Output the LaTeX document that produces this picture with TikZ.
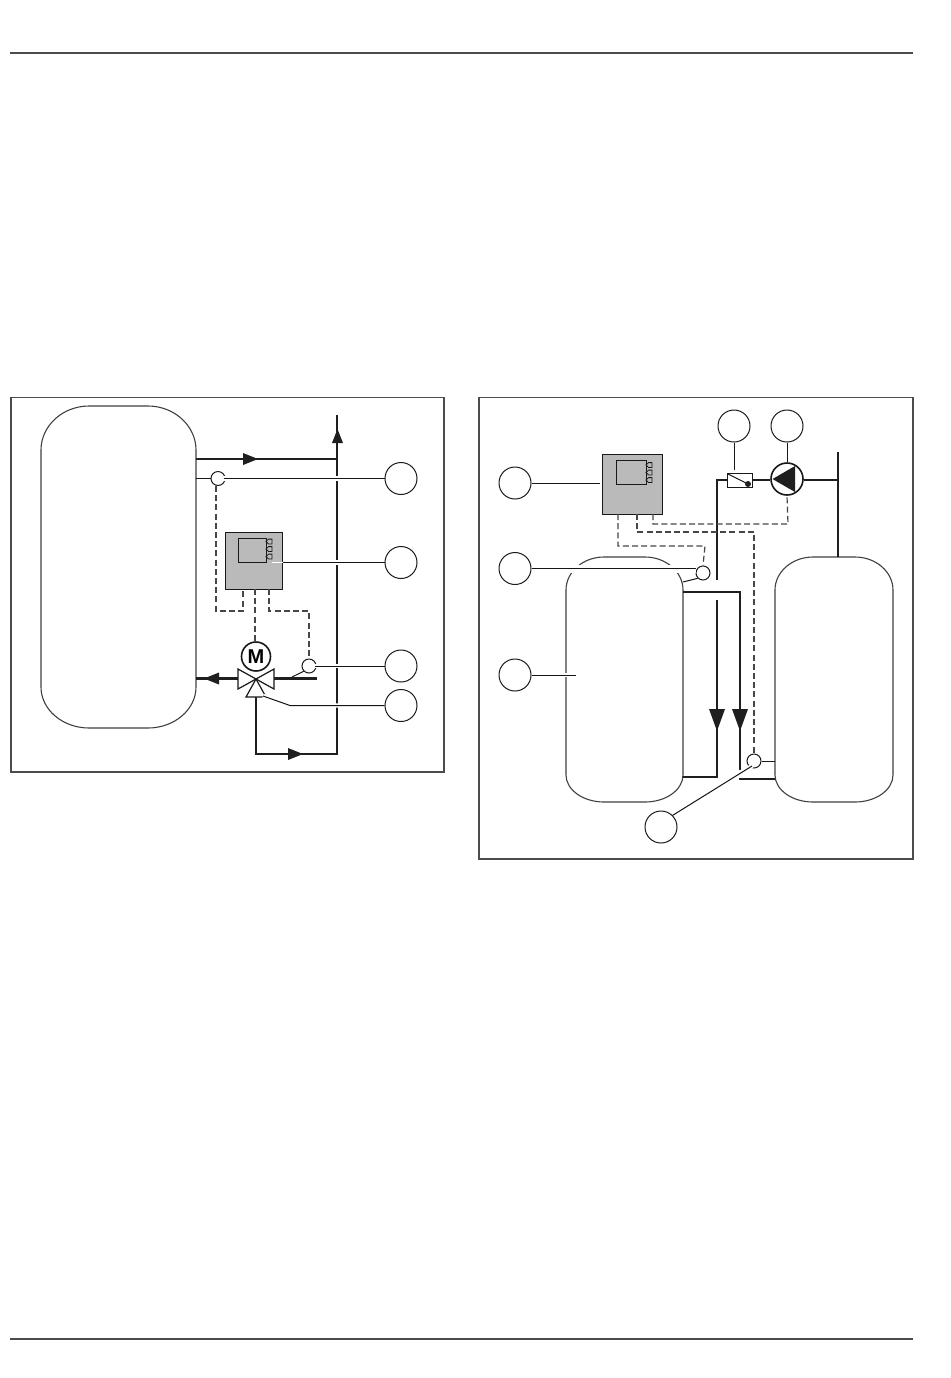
\documentclass[tikz,border=0pt]{standalone}
\usepackage{fontspec}
\setmainfont{Liberation Sans}
\newcommand{\tankshape}[7]{% x1 x2 ytop ybot rx rytop rybot
  \pgfmathsetmacro{\kx}{0.55*#5}\pgfmathsetmacro{\kt}{0.55*#6}\pgfmathsetmacro{\kb}{0.55*#7}
  \draw[tank] ({#1},{#3+#6}) .. controls ({#1},{#3+#6-\kt}) and ({#1+#5-\kx},{#3}) .. ({#1+#5},{#3})
   -- ({#2-#5},{#3}) .. controls ({#2-#5+\kx},{#3}) and ({#2},{#3+#6-\kt}) .. ({#2},{#3+#6})
   -- ({#2},{#4-#7}) .. controls ({#2},{#4-#7+\kb}) and ({#2-#5+\kx},{#4}) .. ({#2-#5},{#4})
   -- ({#1+#5},{#4}) .. controls ({#1+#5-\kx},{#4}) and ({#1},{#4-#7+\kb}) .. ({#1},{#4-#7}) -- cycle;}
\newcommand{\plug}[2]{\draw[thinline,line width=.4pt] (#1,#2) -- ++(2.5,-2.4) -- ++(3.5,0) -- ++(0,4.8) -- ++(-3.5,0) -- cycle;}
\begin{document}
\begin{tikzpicture}[x=0.5pt,y=-0.5pt,
  rulebar/.style={draw=black!70,line width=.8pt},
  frame/.style={draw=black!70,line width=.65pt},
  tank/.style={draw=black!75,line width=.55pt},
  pipe/.style={draw=black!88,line width=1.45pt,line join=miter},
  thinpipe/.style={draw=black!88,line width=1.1pt},
  thinline/.style={draw=black!90,line width=.5pt},
  signal/.style={draw=black!72,line width=.6pt,dash pattern=on 3pt off 1.6pt},
  lead/.style={draw=black!92,line width=.5pt,preaction={draw=white,line width=2.2pt,shorten >=2pt}},
  widelead/.style={draw=black!92,line width=.5pt,preaction={draw=white,line width=4pt,shorten >=3pt}},
  lbl/.style={circle,draw=black!90,line width=.5pt,inner sep=0pt,minimum size=16pt},
  sensor/.style={circle,draw=black!90,line width=.5pt,inner sep=0pt,minimum size=7pt},
  ctrl/.style={rectangle,draw=black!90,fill=black!27,line width=.5pt,inner sep=0pt},
  screen/.style={rectangle,draw=black!90,line width=.5pt,inner sep=0pt},
  head/.style={fill=black!88}]
\useasboundingbox (0,0) rectangle (950,1378);
\fill[white] (0,0) rectangle (950,1378);
% page rules
\coordinate (ruleTL) at (10,53); \coordinate (ruleTR) at (913,53);
\coordinate (ruleBL) at (10,1339); \coordinate (ruleBR) at (913,1339);
\draw[rulebar] (ruleTL) -- (ruleTR);
\draw[rulebar] (ruleBL) -- (ruleBR);
% frames
\draw[frame] (11,397.5) rectangle (444,772);
\draw[frame] (479,397.5) rectangle (913,859);

%%%%%% LEFT DIAGRAM
\tankshape{41}{196}{406}{728}{48}{44}{41}
\node[lbl] (la) at (401,478.5) {};
\node[lbl] (lb) at (401,562.5) {};
\node[lbl] (lc) at (401,666) {};
\node[lbl] (ld) at (401,705.5) {};
\node[ctrl,minimum width=28.5pt,minimum height=28.5pt] (lbox) at (254,560.5) {};
\node[screen,minimum width=14pt,minimum height=12pt] (lscr) at (252,550) {};
\plug{266}{541.5}\plug{266}{549}\plug{266}{556.5}
\node[sensor] (ls1) at (218,478.5) {};
\node[sensor] (ls2) at (309,666) {};
\node[circle,draw=black!90,line width=.8pt,inner sep=0pt,minimum size=14.5pt,font=\bfseries\fontsize{10}{10}\selectfont] (motor) at (256,656.5) {M};
\coordinate (lv) at (256,679);
% pipes
\coordinate (ltop) at (196,459); \coordinate (lcor) at (337,459);
\coordinate (lup) at (337,415); \coordinate (lret) at (337,754);
\coordinate (lcl) at (256,754); \coordinate (lvb) at (256,697);
\coordinate (lvr) at (274,678.5); \coordinate (lend) at (317,678.5);
\coordinate (lvl) at (238,678.5); \coordinate (lin) at (196,678.5);
\draw[pipe] (ltop) -- (lcor);
\draw[thinpipe] (lup) -- (lcor);
\draw[pipe] (lcor) -- (lret) -- (lcl) -- (lvb);
\draw[pipe] (lvr) -- (lend);
\draw[pipe] (lvl) -- (lin);
\fill[head] (243,453) -- (258,459) -- (243,465) -- cycle;
\fill[head] (332,443) -- (337.5,429) -- (343,443) -- cycle;
\fill[head] (219,672.5) -- (204,678.5) -- (219,684.5) -- cycle;
\fill[head] (288,748) -- (303,754) -- (288,760) -- cycle;
% valve
\draw[thinline,line width=.6pt,fill=white] (lv) -- (238,669) -- (238,689) -- cycle;
\draw[thinline,line width=.6pt,fill=white] (lv) -- (274,669) -- (274,689) -- cycle;
\draw[thinline,line width=.6pt,fill=white] (lv) -- (246,697) -- (266,697) -- cycle;
% signal lines
\coordinate (lb1) at (243,589); \coordinate (lb2) at (255,589); \coordinate (lb3) at (269,589);
\draw[signal] (216,486) -- (216,611) -- (243,611) -- (lb1);
\draw[signal] (lb2) -- (motor.north -| lb2);
\draw[signal] (lb3) -- (269,611) -- (309,611) -- (ls2.north);
% sensor leads
\draw[thinline] (196,478.5) -- (ls1.west);
\draw[thinline] (292,677) -- (ls2.south west);
\draw[lead] ([xshift=-1pt]ls1.east) -- (la.west);
\draw[lead] ([xshift=-1pt]ls2.east) -- (lc.west);
\coordinate (lbin) at (272,562.5);
\draw[draw=white,line width=.8pt] (lbin) -- (lbox.east |- lbin);
\draw[lead] (lbox.east |- lb.west) -- (lb.west);
\coordinate (lvtap) at (263,696);
\draw[lead] (lvtap) -- (290,705.5) -- (ld.west);

%%%%%% RIGHT DIAGRAM
\tankshape{566}{683}{557}{802}{38}{33}{27}
\tankshape{775}{893}{557}{802}{38}{33}{27}
\node[lbl] (ra) at (515,483) {};
\node[lbl] (rb) at (515,568.5) {};
\node[lbl] (rc) at (515,675) {};
\node[lbl] (rd) at (661,827) {};
\node[lbl] (re) at (734,426) {};
\node[lbl] (rf) at (787,426) {};
\node[ctrl,minimum width=30pt,minimum height=30pt] (rbox) at (632,484) {};
\node[screen,minimum width=15pt,minimum height=12pt] (rscr) at (631,472.5) {};
\plug{646}{465}\plug{646}{472.5}\plug{646}{480}
\node[sensor] (rs1) at (703,573) {};
\node[sensor] (rs2) at (754,761) {};
\node[rectangle,draw=black!90,line width=.5pt,inner sep=0pt,minimum width=12.5pt,minimum height=7pt] (flow) at (739.5,480) {};
\node[circle,draw=black!90,line width=.8pt,fill=white,inner sep=0pt,minimum size=16pt] (pump) at (787,479) {};
% pipes
\coordinate (rp1) at (717,580); \coordinate (rp2) at (717,480);
\coordinate (rr) at (838,480); \coordinate (rrt) at (838,452); \coordinate (rrb) at (838,557);
\coordinate (rt) at (683,592); \coordinate (rt2) at (740,592); \coordinate (rt3) at (740,770);
\coordinate (rm1) at (717,600); \coordinate (rm2) at (717,777); \coordinate (rm3) at (683,777);
\coordinate (rn1) at (739,779); \coordinate (rn2) at (775,779);
\draw[pipe] (rp1) -- (rp2) -- (flow.west);
\draw[pipe] (flow.east) -- (pump.west |- flow.east);
\draw[pipe] (pump.east |- rr) -- (rr);
\draw[thinpipe] (rrt) -- (rrb);
\draw[pipe] (rt) -- (rt2) -- (rt3);
\draw[pipe] (rm1) -- (rm2) -- (rm3);
\draw[pipe] (rn1) -- (rn2);
\fill[head] (709,709) -- (717,731) -- (725,709) -- cycle;
\fill[head] (732,709) -- (740,731) -- (748,709) -- cycle;
% pump and switch inner marks
\fill[head] (772.5,479) -- (795,466) -- (795,492) -- cycle;
\coordinate (rdot) at (748,484);
\draw[thinline] (728,474) -- (rdot);
\fill[head] (rdot) circle (3);
% signal lines
\coordinate (rb1) at (618,514); \coordinate (rb2) at (637,514); \coordinate (rb3) at (653,514);
\draw[signal] (rb1) -- (618,546) -- (705,546) -- (rs1.north);
\draw[signal] (rb2) -- (637,532) -- (754,532) -- (rs2.north);
\draw[signal] (rb3) -- (653,524) -- (788,524) -- (pump.south);
% leads
\draw[thinline] (683,582) -- (rs1.south west);
\draw[thinline] (rs2.east) -- (775,761);
\coordinate (ram) at (600,483);
\draw[thinline] (ra.east) -- (ram);
\coordinate (rcm) at (576,675);
\draw[lead] (rcm) -- (rc.east);
\draw[widelead] (rs1.west |- rb.east) -- (rb.east);
\coordinate (rs2in) at (752,766);
\draw[lead] (rs2in) -- (rd.north east);
\coordinate (rfl) at (734,470);
\draw[thinline] (re.south) -- (rfl);
\draw[thinline] (rf.south) -- (pump.north);
\end{tikzpicture}
\end{document}
